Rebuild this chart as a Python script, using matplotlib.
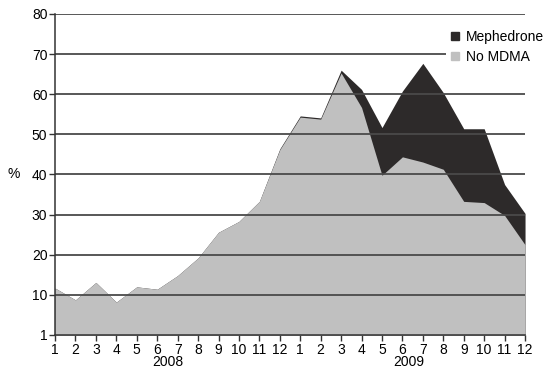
import numpy as np
import matplotlib
matplotlib.use('Agg')
import matplotlib.pyplot as plt
from matplotlib.lines import Line2D

plt.rcParams['font.family'] = ['Liberation Sans', 'DejaVu Sans']

# months: Jan 2008 .. Dec 2009
month_labels = [str(m) for m in range(1, 13)] * 2
years = ['2008', '2009']

no_mdma = [11.7, 8.75, 13.1, 8.2, 12.0, 11.4, 14.8, 19.2, 25.6, 28.3, 33.3, 46.2,
           54.3, 53.8, 65.3, 56.7, 39.8, 44.4, 43.1, 41.3, 33.3, 33.0, 29.8, 22.5]
mephedrone = [11.7, 8.75, 13.1, 8.2, 12.0, 11.4, 14.8, 19.2, 25.6, 28.3, 33.3, 46.4,
              54.6, 54.1, 66.0, 61.2, 51.7, 60.8, 67.7, 60.4, 51.4, 51.4, 37.5, 30.3]

y_ticks = [0, 10, 20, 30, 40, 50, 60, 70, 80]
y_tick_labels = ['1', '10', '20', '30', '40', '50', '60', '70', '80']

x = np.arange(len(no_mdma))

fig = plt.figure(figsize=(5.48, 3.79), dpi=100)
ax = fig.add_axes([0.1004, 0.1161, 0.8577, 0.8470])

ax.fill_between(x, 0, mephedrone, color='#2d2a2a', lw=0, zorder=1)
ax.fill_between(x, 0, no_mdma, color='#c0c0c0', lw=0, zorder=2)

for v in y_ticks[1:]:
    ax.axhline(v, color='#4a4a4a', lw=1.3, zorder=3)

ax.set_xlim(0, 23)
ax.set_ylim(0, 80)
ax.set_xticks(x)
ax.set_xticklabels(month_labels, fontsize=10)
ax.set_yticks(y_ticks)
ax.set_yticklabels(y_tick_labels, fontsize=10)
ax.tick_params(axis='both', length=4, width=1, color='#333333', pad=1.5)

for s in ['top', 'right']:
    ax.spines[s].set_visible(False)
for s in ['left', 'bottom']:
    ax.spines[s].set_color('#333333')
    ax.spines[s].set_linewidth(1.1)
    ax.spines[s].set_zorder(4)

ax.text(5.5, -6.8, years[0], ha='center', va='center', fontsize=10)
ax.text(17.3, -6.8, years[1], ha='center', va='center', fontsize=10)
ax.text(-2.0, 40, '%', ha='center', va='center', fontsize=10)

handles = [Line2D([], [], marker='s', ls='', color='#2d2a2a', markersize=6),
           Line2D([], [], marker='s', ls='', color='#c0c0c0', markersize=6)]
leg = ax.legend(handles, ['Mephedrone', 'No MDMA'], loc='upper right',
                bbox_to_anchor=(1.065, 0.985), frameon=True, fontsize=10,
                handlelength=0.8, handletextpad=0.4, labelspacing=0.45,
                borderpad=0.3)
leg.get_frame().set_facecolor('white')
leg.get_frame().set_edgecolor('none')
leg.get_frame().set_alpha(1)
leg.set_zorder(5)

fig.savefig('out.png', dpi=100)
